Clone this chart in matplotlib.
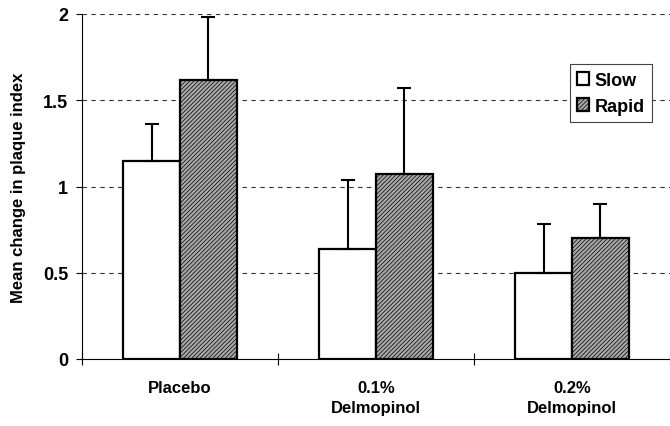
import numpy as np
import matplotlib
matplotlib.use('Agg')
from matplotlib import pyplot as plt

plt.rcParams['font.family'] = ['Liberation Sans', 'DejaVu Sans']
plt.rcParams['font.weight'] = 'bold'
plt.rcParams['hatch.linewidth'] = 0.5

groups = ['Placebo', '0.1%\nDelmopinol', '0.2%\nDelmopinol']
slow = [1.15, 0.64, 0.50]
slow_err = [0.21, 0.40, 0.28]
rapid = [1.62, 1.07, 0.70]
rapid_err = [0.36, 0.50, 0.20]

fig = plt.figure(figsize=(6.7, 4.27), dpi=100)
ax = fig.add_axes([82/670, 1 - 360/427, 1 - 82/670, (360 - 15)/427])

x = np.arange(len(groups))
w = 0.29
ekw = dict(ecolor='black', elinewidth=1.5, capsize=5, capthick=1.5)
ax.bar(x - w/2, slow, w, color='white', edgecolor='black', linewidth=1.6,
       yerr=[np.zeros(3), slow_err], error_kw=ekw, label='Slow', zorder=3)
ax.bar(x + w/2, rapid, w, color='#a8a8a8', edgecolor='black', linewidth=1.6, hatch='////////',
       yerr=[np.zeros(3), rapid_err], error_kw=ekw, label='Rapid', zorder=3)

ax.set_xlim(-0.5, 2.5)
ax.set_ylim(0, 2)
ax.set_yticks([0, 0.5, 1, 1.5, 2])
ax.set_yticklabels(['0', '0.5', '1', '1.5', '2'], fontsize=13, fontweight='bold')
for v in [0.5, 1, 1.5, 2]:
    ax.axhline(v, color='#333333', linestyle=(0, (4, 4)), linewidth=0.8, zorder=1)

ax.set_xticks([-0.5, 0.5, 1.5, 2.5])
ax.set_xticklabels([])
ax.tick_params(axis='x', direction='inout', length=8, width=0.8)
ax.tick_params(axis='y', direction='out', length=4, width=0.8, pad=6)
for i, g in enumerate(groups):
    ax.text(i, -0.12, g, ha='center', va='top', fontsize=12, fontweight='bold',
            linespacing=1.45, transform=ax.transData, clip_on=False)

ax.spines['top'].set_visible(False)
ax.spines['right'].set_visible(False)
ax.spines['left'].set_linewidth(0.8)
ax.spines['bottom'].set_linewidth(0.8)

ax.set_ylabel('Mean change in plaque index', fontsize=12, fontweight='bold', labelpad=12)

leg = ax.legend(loc='upper right', bbox_to_anchor=(0.985, 0.88), fontsize=13, frameon=True,
                fancybox=False, edgecolor='#444444', handlelength=0.7, handleheight=0.7,
                handletextpad=0.3, borderpad=0.4, labelspacing=0.5, framealpha=1)
leg.get_frame().set_linewidth(0.8)
leg.set_zorder(5)

fig.savefig('out.png', dpi=100)
